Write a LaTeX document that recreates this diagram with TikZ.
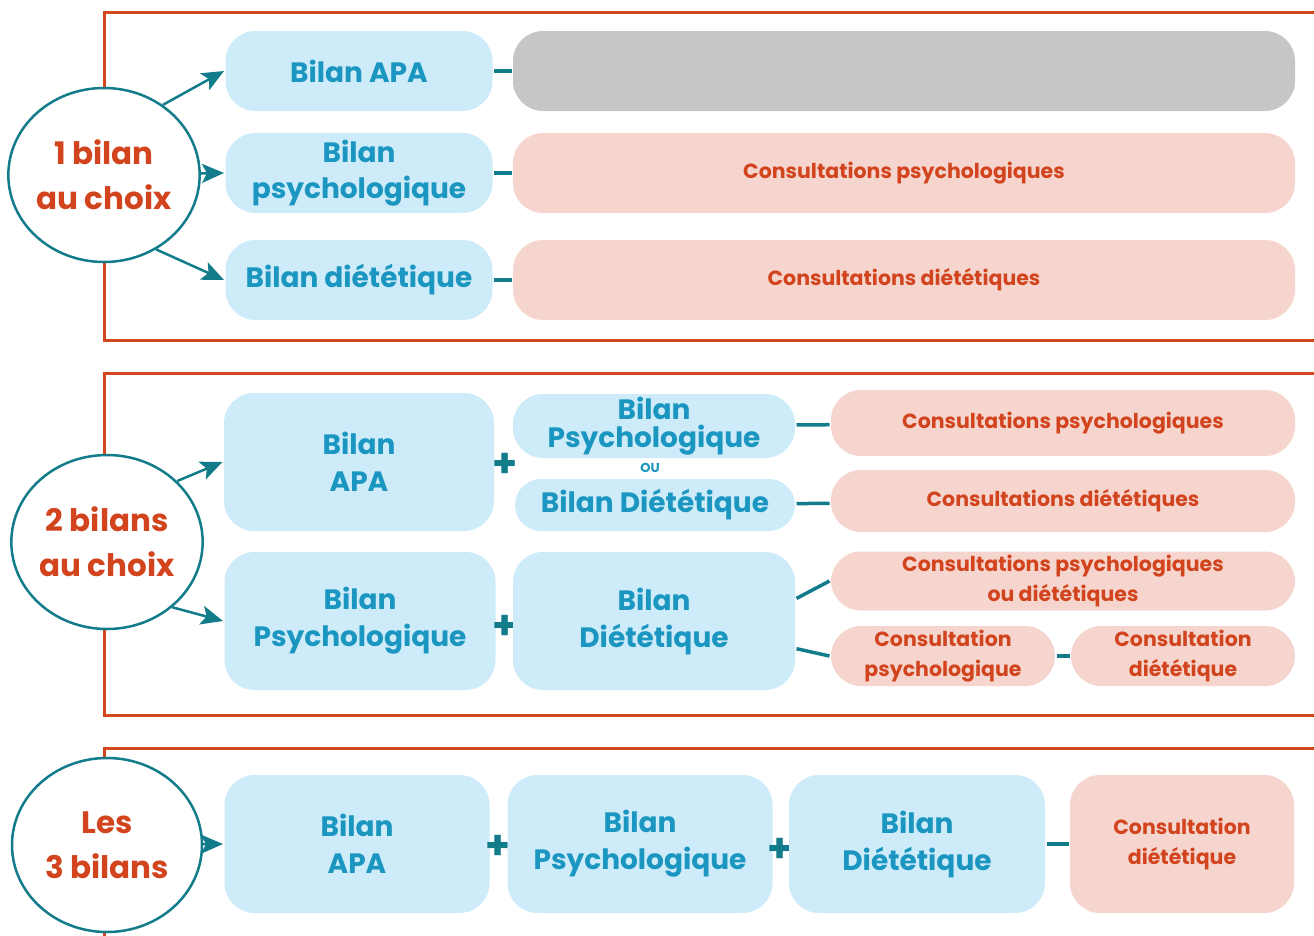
\documentclass[tikz,border=0pt]{standalone}
\usepackage{fontspec}
\setmainfont{Poppins}
\usepackage{tikz}
\usetikzlibrary{arrows.meta,shapes.geometric}

\definecolor{framered}{RGB}{212,70,30}
\definecolor{choiceteal}{RGB}{18,124,138}
\definecolor{bilanblue}{RGB}{205,235,248}
\definecolor{bilantext}{RGB}{26,150,192}
\definecolor{consultpink}{RGB}{245,213,205}
\definecolor{consulttext}{RGB}{210,68,30}
\definecolor{emptygray}{RGB}{198,198,198}

\begin{document}
\begin{tikzpicture}[x=1pt,y=-1pt,line width=3pt,
    choice node/.style={ellipse,draw=choiceteal,line width=2.5pt,fill=white,minimum width=190pt,minimum height=174pt,inner sep=0pt,align=center,text=consulttext,font=\bfseries\fontsize{31}{45}\selectfont},
    bilan node/.style={rounded corners=30pt,fill=bilanblue,text=bilantext,align=center,inner sep=0pt,font=\bfseries\fontsize{28}{37}\selectfont,minimum height=80pt,minimum width=267pt},
    consult node/.style={rounded corners=30pt,fill=consultpink,text=consulttext,align=center,inner sep=0pt,font=\bfseries\fontsize{20.5}{30}\selectfont,minimum height=80pt,minimum width=782pt},
    plus node/.style={text=choiceteal,font=\bfseries\fontsize{40}{40}\selectfont,inner sep=0pt},
    choice arrow/.style={-{Stealth[length=22pt,width=19pt,inset=5pt]},draw=choiceteal,fill=choiceteal,line width=2.5pt},
    link/.style={draw=choiceteal,line width=3.5pt}]
  \useasboundingbox (0,0) rectangle (1314,935);

  % cadres
  \draw[framered] (1316,12) -- (104,12) -- (104,340) -- (1316,340);
  \draw[framered] (1316,373) -- (104,373) -- (104,715) -- (1316,715);
  \draw[framered] (1316,748) -- (104,748) -- (104,937);

  % 1 bilan au choix
  \node[choice node] (c1) at (104,175) {1 bilan\\au choix};
  \node[bilan node] (a1) at (359,71) {Bilan APA};
  \node[bilan node,font=\bfseries\fontsize{28}{36}\selectfont] (a2) at (359,173) {Bilan\\psychologique};
  \node[bilan node] (a3) at (359,280) {Bilan diététique};
  \node[consult node,fill=emptygray] (g1) at (904,71) {};
  \node[consult node] (g2) at (904,173) {Consultations psychologiques};
  \node[consult node] (g3) at (904,280) {Consultations diététiques};

  \path
    (c1.50) edge[choice arrow] (a1.west)
    (c1) edge[choice arrow] (a2.west)
    (c1.305) edge[choice arrow] (a3.west);
  \path
    (a1) edge[link] (g1)
    (a2) edge[link] (g2)
    (a3) edge[link] (g3);

  % 2 bilans au choix
  \node[choice node] (c2) at (107,542) {2 bilans\\au choix};
  \node[bilan node,minimum width=270pt,minimum height=138pt] (b1) at (359,462) {Bilan\\APA};
  \node[plus node] (p1) at (505,465) {+};
  \node[bilan node,minimum width=282pt,minimum height=64pt,font=\bfseries\fontsize{28}{28}\selectfont] (b2) at (654,426) {Bilan\\Psychologique};
  \node[text=bilantext,font=\bfseries\fontsize{13}{13}\selectfont,inner sep=0pt] (ou) at (650,468) {OU};
  \node[bilan node,minimum width=280pt,minimum height=52pt,rounded corners=26pt] (b3) at (655,505) {Bilan Diététique};
  \node[bilan node,minimum width=271pt,minimum height=138pt] (b4) at (360,621) {Bilan\\Psychologique};
  \node[plus node] (p2) at (505,627) {+};
  \node[bilan node,minimum width=282pt,minimum height=138pt] (b5) at (654,621) {Bilan\\Diététique};
  \node[consult node,minimum width=464pt,minimum height=66pt] (e1) at (1063,423) {Consultations psychologiques};
  \node[consult node,minimum width=464pt,minimum height=62pt] (e2) at (1063,501) {Consultations diététiques};
  \node[consult node,minimum width=464pt,minimum height=59pt] (e3) at (1063,581) {Consultations psychologiques\\ou diététiques};
  \node[consult node,minimum width=224pt,minimum height=60pt] (e4) at (943,656) {Consultation\\psychologique};
  \node[consult node,minimum width=224pt,minimum height=60pt] (e5) at (1183,656) {Consultation\\diététique};

  \path
    (c2.41) edge[choice arrow] (b1.west)
    (c2.315) edge[choice arrow] (b4.west);
  \path
    (b2) edge[link] (e1)
    (b3) edge[link] (e2)
    (b5.9) edge[link] (e3.west)
    (b5.349) edge[link] (e4.west)
    (e4) edge[link] (e5);

  % les 3 bilans
  \node[choice node] (c3) at (107,845) {Les\\3 bilans};
  \node[bilan node,minimum width=265pt,minimum height=138pt] (d1) at (357,844) {Bilan\\APA};
  \node[plus node] (p3) at (498,847) {+};
  \node[bilan node,minimum width=265pt,minimum height=138pt] (d2) at (640,844) {Bilan\\Psychologique};
  \node[plus node] (p4) at (780,850) {+};
  \node[bilan node,minimum width=256pt,minimum height=138pt] (d3) at (917,844) {Bilan\\Diététique};
  \node[consult node,minimum width=224pt,minimum height=138pt] (f1) at (1182,844) {Consultation\\diététique};

  \path
    (c3) edge[choice arrow] (d1.west);
  \path
    (d3) edge[link] (f1);
\end{tikzpicture}
\end{document}
